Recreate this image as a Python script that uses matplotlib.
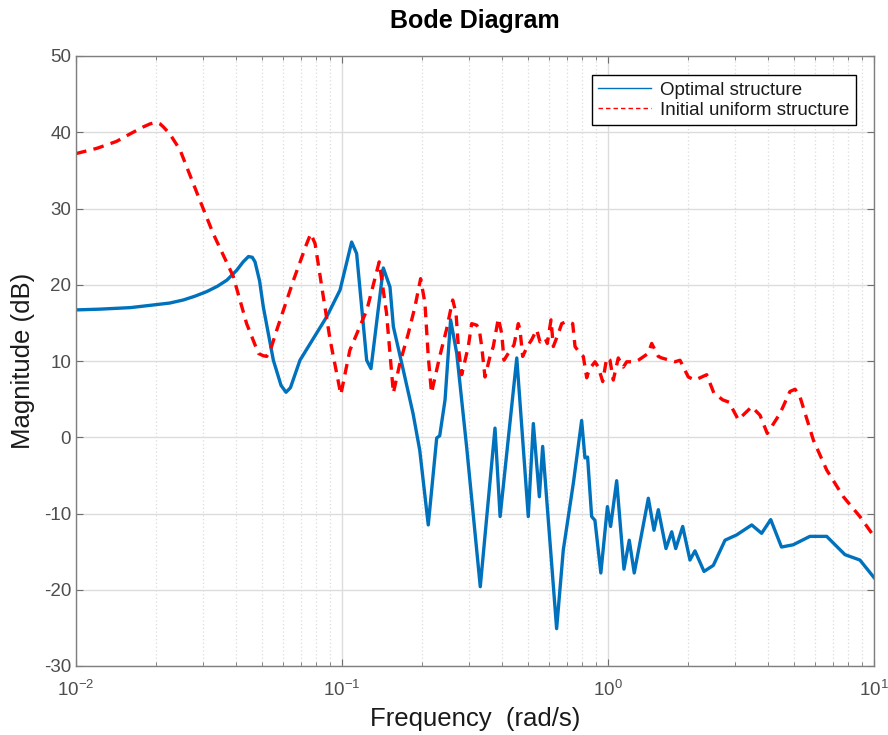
import matplotlib
matplotlib.use("Agg")
import matplotlib.pyplot as plt
from matplotlib.ticker import LogLocator, NullFormatter, MultipleLocator

plt.rcParams['font.family'] = ['Liberation Sans', 'DejaVu Sans']
plt.rcParams['mathtext.fontset'] = 'custom'
plt.rcParams['mathtext.rm'] = 'Liberation Sans'
plt.rcParams['mathtext.it'] = 'Liberation Sans'
plt.rcParams['mathtext.bf'] = 'Liberation Sans:bold'
plt.rcParams['axes.unicode_minus'] = False

# Optimal structure (frequency rad/s, magnitude dB)
opt_freq = [0.01, 0.0123, 0.016, 0.019, 0.0225, 0.0253, 0.028, 0.031, 0.034, 0.0369,
            0.0402, 0.0425, 0.0445, 0.046, 0.0471, 0.049, 0.0506, 0.0552, 0.059, 0.0616,
            0.064, 0.0695, 0.0876, 0.0983, 0.1087, 0.1135, 0.1238, 0.1285, 0.143,
            0.1515, 0.156, 0.170, 0.185, 0.196, 0.211, 0.227, 0.233, 0.244, 0.256,
            0.270, 0.294, 0.331, 0.376, 0.393, 0.454, 0.5015, 0.524, 0.552, 0.568,
            0.641, 0.679, 0.741, 0.796, 0.819, 0.838, 0.868, 0.893, 0.940, 0.995,
            1.023, 1.078, 1.148, 1.202, 1.255, 1.418, 1.489, 1.546, 1.652, 1.736,
            1.797, 1.909, 2.033, 2.123, 2.296, 2.489, 2.754, 3.048, 3.47, 3.78,
            4.09, 4.49, 4.97, 5.74, 6.64, 7.78, 8.85, 10.0]
opt_db = [16.7, 16.8, 17.0, 17.3, 17.6, 18.0, 18.5, 19.1, 19.8, 20.6,
          21.9, 23.0, 23.7, 23.6, 23.0, 20.5, 17.1, 10.1, 6.8, 5.9,
          6.5, 10.1, 15.8, 19.3, 25.6, 24.1, 10.1, 9.0, 22.2,
          19.7, 14.5, 8.8, 3.1, -1.7, -11.5, -0.1, 0.2, 4.9, 15.4,
          11.0, -1.2, -19.6, 1.2, -10.4, 10.4, -10.4, 1.8, -7.8, -1.2,
          -25.1, -14.8, -6.0, 2.2, -2.7, -2.6, -10.4, -10.9, -17.8, -9.1,
          -11.7, -5.7, -17.3, -13.5, -17.8, -8.0, -12.2, -9.5, -14.6, -12.4,
          -14.6, -11.7, -16.1, -14.9, -17.6, -16.8, -13.5, -12.8, -11.5, -12.6,
          -10.8, -14.4, -14.1, -13.0, -13.0, -15.4, -16.1, -18.4]

# Initial uniform structure
ini_freq = [0.01, 0.012, 0.0142, 0.016, 0.0179, 0.019, 0.0200, 0.0207, 0.0213, 0.0225,
            0.0246, 0.0292, 0.0328, 0.039, 0.0438, 0.0485, 0.0505, 0.0521, 0.054, 0.0569,
            0.0657, 0.0737, 0.0763, 0.0792, 0.0851, 0.0902, 0.099, 0.107, 0.124, 0.138,
            0.147, 0.156, 0.165, 0.1775, 0.188, 0.1975, 0.205, 0.211, 0.217, 0.233,
            0.247, 0.2607, 0.2683, 0.2737, 0.2818, 0.2984, 0.3073, 0.3209, 0.3282, 0.3351,
            0.3448, 0.3601, 0.3705, 0.3870, 0.3986, 0.4064, 0.4218, 0.4431, 0.4600, 0.4669,
            0.4778, 0.4972, 0.5166, 0.5395, 0.5551, 0.5797, 0.5913, 0.6106, 0.6230, 0.6505,
            0.6698, 0.6995, 0.7368, 0.7516, 0.7848, 0.8075, 0.8317, 0.8504, 0.8935, 0.9194,
            0.9552, 0.9888, 1.0174, 1.0469, 1.093, 1.1417, 1.176, 1.2636, 1.2998, 1.4171,
            1.4596, 1.5456, 1.5917, 1.7863, 1.8653, 2.0042, 2.1238, 2.35, 2.5, 2.7,
            2.85, 3.09, 3.47, 3.727, 3.97, 4.43, 4.83, 5.05, 5.27, 5.92,
            6.64, 7.67, 8.85, 10.0]
ini_db = [37.2, 37.9, 38.8, 39.8, 40.7, 41.1, 41.3, 41.1, 40.7, 39.8,
          37.7, 31.1, 26.7, 21.1, 14.9, 11.0, 10.7, 10.6, 11.6, 14.1,
          20.6, 25.4, 26.7, 25.4, 18.4, 12.8, 5.6, 11.4, 16.7, 23.0,
          16.3, 5.8, 9.7, 13.6, 17.1, 20.8, 17.6, 10.6, 5.8, 10.6,
          14.1, 18.0, 16.3, 11.9, 8.2, 11.9, 14.9, 14.7, 14.1, 11.9,
          7.9, 10.6, 11.9, 15.6, 13.6, 10.1, 11.0, 12.1, 14.9, 14.1,
          10.6, 11.9, 12.8, 14.1, 12.5, 13.0, 12.3, 15.4, 11.9, 13.6,
          14.9, 15.2, 14.9, 11.9, 11.0, 10.6, 7.8, 8.9, 9.9, 9.2,
          7.3, 10.4, 10.1, 7.5, 10.4, 9.2, 9.9, 9.9, 10.1, 11.0,
          12.3, 10.6, 10.4, 9.9, 10.1, 7.9, 7.5, 8.2, 5.8, 4.9,
          4.6, 2.3, 4.0, 2.9, 0.5, 3.1, 6.0, 6.3, 5.3, -0.4,
          -4.3, -7.8, -10.4, -13.0]

fig = plt.figure(figsize=(8.88, 7.35), dpi=100)
ax = fig.add_axes([76/888, 1 - 666/735, (874-76)/888, (666-56)/735])

ax.semilogx(opt_freq, opt_db, color='#0072BD', lw=2.4, label='Optimal structure')
ax.semilogx(ini_freq, ini_db, color='#FF0000', lw=2.4, ls=(0, (3.2, 2.2)),
            label='Initial uniform structure')

ax.set_xlim(0.01, 10)
ax.set_ylim(-30, 50)
ax.yaxis.set_major_locator(MultipleLocator(10))
ax.xaxis.set_major_locator(LogLocator(base=10, numticks=10))
ax.xaxis.set_minor_locator(LogLocator(base=10, subs=range(2, 10), numticks=20))
ax.xaxis.set_minor_formatter(NullFormatter())

ax.grid(True, which='major', color='#DCDCDC', lw=1.0, ls='-')
ax.grid(True, which='minor', axis='x', color='#DCDCDC', lw=0.9, ls=(0, (1, 2)))
ax.set_axisbelow(True)

for s in ax.spines.values():
    s.set_color('#7F7F7F')
    s.set_linewidth(1.0)
ax.tick_params(which='both', direction='in', top=True, right=True, colors='#6E6E6E',
               labelsize=13.5, labelcolor='#4D4D4D')
ax.tick_params(which='major', length=5)
ax.tick_params(which='minor', length=3)
ax.tick_params(axis='x', pad=10)

ax.set_xlabel('Frequency  (rad/s)', fontsize=18.5, color='#1A1A1A', labelpad=5)
ax.set_ylabel('Magnitude (dB)', fontsize=18.5, color='#1A1A1A', labelpad=6)
ax.set_title('Bode Diagram', fontsize=18, fontweight='bold', color='black', pad=20)

leg = ax.legend(loc='upper right', bbox_to_anchor=(1.0 - 18/798, 1.0 - 19/610),
                fontsize=13.5, frameon=True, fancybox=False, framealpha=1,
                edgecolor='black', borderpad=0.35, labelspacing=0.15, handlelength=2.8,
                handletextpad=0.5, borderaxespad=0)
leg.get_frame().set_linewidth(1.0)
for line in leg.get_lines():
    line.set_linewidth(1.0)
for t in leg.get_texts():
    t.set_color('#1A1A1A')

fig.savefig('out.png', dpi=100)
